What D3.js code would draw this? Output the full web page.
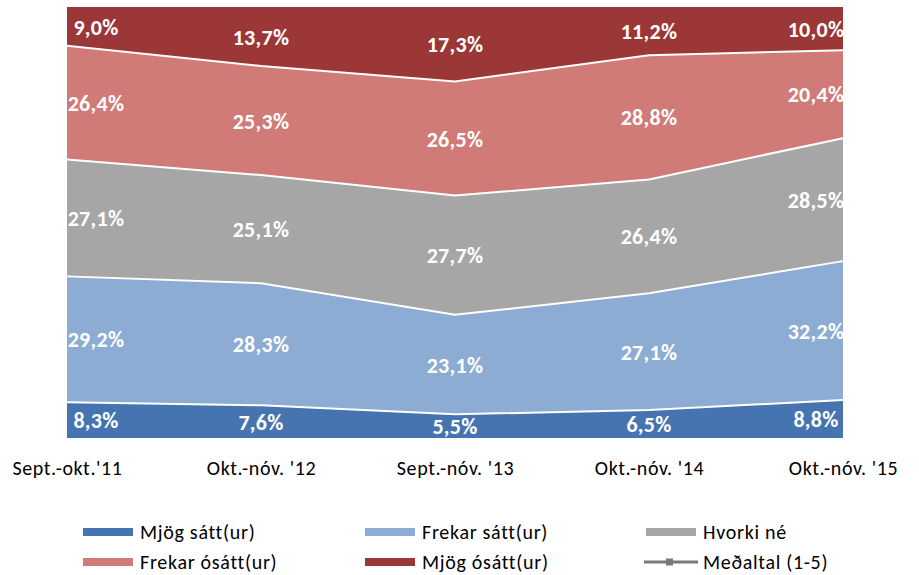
<!DOCTYPE html>
<html><head><meta charset="utf-8">
<script src="https://cdn.jsdelivr.net/npm/d3@7/dist/d3.min.js"></script>
<style>body{margin:0;background:#fff;} svg{display:block;}</style>
</head><body>
<svg id="c" width="919" height="575"></svg>
<script>
const categories = ["Sept.-okt.'11", "Okt.-nóv. '12", "Sept.-nóv. '13", "Okt.-nóv. '14", "Okt.-nóv. '15"];
const seriesNames = ["Mjög sátt(ur)", "Frekar sátt(ur)", "Hvorki né", "Frekar ósátt(ur)", "Mjög ósátt(ur)"];
const mjogSatt = [8.3, 7.6, 5.5, 6.5, 8.8];
const frekarSatt = [29.2, 28.3, 23.1, 27.1, 32.2];
const hvorkiNe = [27.1, 25.1, 27.7, 26.4, 28.5];
const frekarOsatt = [26.4, 25.3, 26.5, 28.8, 20.4];
const mjogOsatt = [9.0, 13.7, 17.3, 11.2, 10.0];
const colors = ["#4674b0", "#8cacd4", "#a6a6a6", "#d07b77", "#9b3736"];
const meanLegend = "Meðaltal (1-5)";

(function () {
const seriesVals = [mjogSatt, frekarSatt, hvorkiNe, frekarOsatt, mjogOsatt];
const rows = categories.map((c, i) => {
  const r = {cat: c};
  seriesNames.forEach((s, k) => r[s] = seriesVals[k][i]);
  return r;
});
const stack = d3.stack().keys(seriesNames).offset(d3.stackOffsetExpand);
const layers = stack(rows);

const svg = d3.select("#c");
const pLeft = 67, pRight = 843, pTop = 7, pBottom = 438;
const x = d3.scalePoint().domain(categories).range([pLeft, pRight]);
const y = d3.scaleLinear().domain([0, 1]).range([pBottom, pTop]);
const font = "Carlito, Lato, 'Open Sans', sans-serif";

const area = d3.area().x(d => x(d.data.cat)).y0(d => y(d[0])).y1(d => y(d[1]));
svg.selectAll("path.layer").data(layers).join("path")
  .attr("class", "layer")
  .attr("d", area)
  .attr("fill", (d, i) => colors[i]);

const line = d3.line().x(d => x(d.data.cat)).y(d => y(d[1]));
svg.selectAll("path.sep").data(layers.slice(0, 4)).join("path")
  .attr("class", "sep")
  .attr("d", line)
  .attr("fill", "none").attr("stroke", "#fff").attr("stroke-width", 2);

layers.forEach((layer, k) => {
  layer.forEach((d, i) => {
    const cx = x(d.data.cat);
    let tx = cx;
    if (i === 0) { tx = cx + 29; }
    if (i === categories.length - 1) { tx = cx - 27; }
    svg.append("text")
      .attr("x", tx).attr("y", (y(d[0]) + y(d[1])) / 2)
      .attr("dy", "0.37em")
      .attr("text-anchor", "middle")
      .attr("fill", "#fff")
      .attr("font-family", font).attr("font-weight", "bold").attr("font-size", 22)
      .attr("letter-spacing", 0.3)
      .text(seriesVals[k][i].toFixed(1).replace(".", ",") + "%");
  });
});

const xAxis = d3.axisBottom(x).tickSize(0).tickPadding(0);
const gx = svg.append("g").attr("transform", `translate(0,${pBottom})`).call(xAxis);
gx.select(".domain").remove();
gx.selectAll("text").attr("y", 37).attr("dy", "0")
  .attr("font-family", font).attr("font-size", 20).attr("letter-spacing", 0.6).attr("fill", "#000");

const legendItems = [
  {name: seriesNames[0], color: colors[0], col: 0, row: 0},
  {name: seriesNames[1], color: colors[1], col: 1, row: 0},
  {name: seriesNames[2], color: colors[2], col: 2, row: 0},
  {name: seriesNames[3], color: colors[3], col: 0, row: 1},
  {name: seriesNames[4], color: colors[4], col: 1, row: 1},
  {name: meanLegend, color: "#7a7a7a", col: 2, row: 1, mean: true}
];
const colX = [83, 365, 646], rowY = [532, 562];
legendItems.forEach(it => {
  const gx0 = colX[it.col], gy = rowY[it.row];
  const g = svg.append("g");
  if (it.mean) {
    g.append("line").attr("x1", gx0 - 2).attr("x2", gx0 + 52).attr("y1", gy).attr("y2", gy)
      .attr("stroke", it.color).attr("stroke-width", 3);
    g.append("rect").attr("x", gx0 + 20).attr("y", gy - 3.5).attr("width", 7).attr("height", 7)
      .attr("fill", it.color);
  } else {
    g.append("rect").attr("x", gx0).attr("y", gy - 4).attr("width", 50).attr("height", 8)
      .attr("fill", it.color);
  }
  g.append("text").attr("x", gx0 + 57).attr("y", gy).attr("dy", "0.35em")
    .attr("font-family", font).attr("font-size", 20).attr("letter-spacing", 0.7)
    .attr("fill", "#000").text(it.name);
});
})();
</script>
</body></html>
